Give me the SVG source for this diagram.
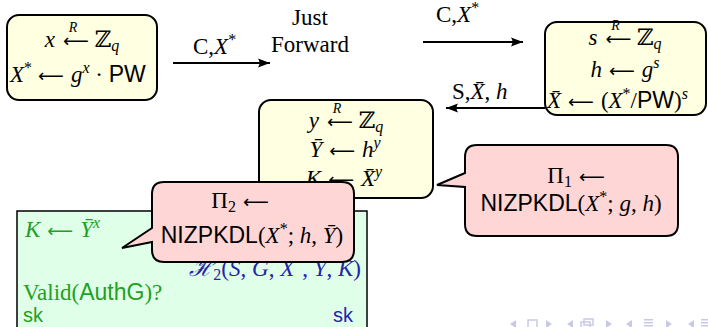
<svg xmlns="http://www.w3.org/2000/svg" width="708" height="327" viewBox="0 0 708 327">
<style>
.m{font-family:"Liberation Serif","DejaVu Serif",serif;font-size:23px;fill:#000}
.i{font-style:italic}
.sf{font-family:"Liberation Sans","DejaVu Sans",sans-serif;font-style:normal}
.ar{font-family:"DejaVu Sans",sans-serif;font-size:18px;font-style:normal}
.sup{font-size:16px}
.rr{font-size:14px;font-style:italic}
.box{fill:#ffffe2;stroke:#000;stroke-width:2}
.bub{fill:#ffd6d6;stroke:#000;stroke-width:2}
.g{fill:#22a022}
.b{fill:#2424a8}
.conn line{stroke:#000;stroke-width:2;marker-end:url(#ah)}
.nav{fill:#c9c9e6}
</style>
<defs>
<marker id="ah" markerWidth="14" markerHeight="10" refX="12" refY="5" orient="auto" markerUnits="userSpaceOnUse">
<path d="M0,0.5 L12,5 L0,9.5 Q3,5 0,0.5 Z" fill="#000"/>
</marker>
</defs>
<rect width="708" height="327" fill="#fff"/>

<g id="green-box">
<rect x="17" y="211" width="350" height="130" fill="#e0ffe8" stroke="#000" stroke-width="1.5"/>
<text class="m g" x="25" y="237"><tspan class="i">K</tspan><tspan class="ar" dx="7">⟵</tspan><tspan class="i" dx="7">Ȳ</tspan><tspan class="i sup" dy="-9">x</tspan></text>
<text class="m b" x="361" y="276" text-anchor="end"><tspan class="i">ℋ</tspan><tspan class="sup" dy="4">2</tspan><tspan dy="-4">(</tspan><tspan class="i">S</tspan>, <tspan class="i">G</tspan>, <tspan class="i">X</tspan><tspan class="sup" dy="-9">*</tspan><tspan dy="9">, </tspan><tspan class="i">Ȳ</tspan>, <tspan class="i">K</tspan>)</text>
<text class="m g" x="23" y="300">Valid(<tspan class="sf">AuthG</tspan>)?</text>
<text class="m g sf" x="23" y="322" style="font-size:20px">sk</text>
<text class="m b sf" x="353" y="322" text-anchor="end" style="font-size:20px">sk</text>
</g>

<g id="client">
<rect class="box" x="7" y="15" width="150" height="85" rx="12"/>
<text class="m" x="82" y="47" text-anchor="middle"><tspan class="i">x</tspan><tspan class="ar" dx="8">⟵</tspan><tspan class="rr" dx="-20" dy="-15">R</tspan><tspan dx="17" dy="15">ℤ</tspan><tspan class="i sup" dy="4">q</tspan></text>
<text class="m" x="10" y="82"><tspan class="i">X</tspan><tspan class="sup" dy="-9">*</tspan><tspan class="ar" dx="6" dy="9">⟵</tspan><tspan class="i" dx="7">g</tspan><tspan class="i sup" dy="-9">x</tspan><tspan dy="9"> · </tspan><tspan class="sf">PW</tspan></text>
</g>

<g id="just-forward">
<text class="m" x="310" y="25" text-anchor="middle">Just</text>
<text class="m" x="310" y="52" text-anchor="middle">Forward</text>
</g>

<g id="server">
<rect class="box" x="545" y="22" width="161" height="93" rx="12"/>
<text class="m" x="625" y="45" text-anchor="middle"><tspan class="i">s</tspan><tspan class="ar" dx="8">⟵</tspan><tspan class="rr" dx="-20" dy="-15">R</tspan><tspan dx="17" dy="15">ℤ</tspan><tspan class="i sup" dy="4">q</tspan></text>
<text class="m" x="625" y="77" text-anchor="middle"><tspan class="i">h</tspan><tspan class="ar" dx="7">⟵</tspan><tspan class="i" dx="7">g</tspan><tspan class="i sup" dy="-9">s</tspan></text>
<text class="m" x="547" y="108"><tspan class="i">X̄</tspan><tspan class="ar" dx="7">⟵</tspan><tspan dx="7">(</tspan><tspan class="i">X</tspan><tspan class="sup" dy="-9">*</tspan><tspan dy="9">/</tspan><tspan class="sf">PW</tspan>)<tspan class="i sup" dy="-9">s</tspan></text>
</g>

<g id="middle">
<rect class="box" x="259" y="100" width="174" height="98" rx="12"/>
<text class="m" x="346" y="128" text-anchor="middle"><tspan class="i">y</tspan><tspan class="ar" dx="8">⟵</tspan><tspan class="rr" dx="-20" dy="-15">R</tspan><tspan dx="17" dy="15">ℤ</tspan><tspan class="i sup" dy="4">q</tspan></text>
<text class="m" x="345" y="157" text-anchor="middle"><tspan class="i">Ȳ</tspan><tspan class="ar" dx="7">⟵</tspan><tspan class="i" dx="7">h</tspan><tspan class="i sup" dy="-9">y</tspan></text>
<text class="m" x="344" y="186" text-anchor="middle"><tspan class="i">K</tspan><tspan class="ar" dx="7">⟵</tspan><tspan class="i" dx="7">X̄</tspan><tspan class="i sup" dy="-9">y</tspan></text>
</g>

<g class="conn" id="connectors">
<line x1="173" y1="63" x2="270" y2="63"/>
<line x1="423" y1="42" x2="523" y2="42"/>
<line x1="545" y1="108" x2="446" y2="108"/>
<text class="m" x="193" y="54">C,<tspan class="i">X</tspan><tspan class="sup" dy="-9">*</tspan></text>
<text class="m" x="436" y="22">C,<tspan class="i">X</tspan><tspan class="sup" dy="-9">*</tspan></text>
<text class="m" x="452" y="99">S,<tspan class="i">X̄</tspan>, <tspan class="i">h</tspan></text>
</g>

<g id="pi1">
<path class="bub" d="M477,145 H666 Q678,145 678,157 V224 Q678,236 666,236 H477 Q465,236 465,224 V187 L437,185 L465,173 V157 Q465,145 477,145 Z"/>
<text class="m" x="576" y="183" text-anchor="middle">Π<tspan class="sup" dy="4">1</tspan><tspan class="ar" dx="7" dy="-4">⟵</tspan></text>
<text class="m" x="571" y="211" text-anchor="middle"><tspan class="sf">NIZPKDL</tspan>(<tspan class="i">X</tspan><tspan class="sup" dy="-9">*</tspan><tspan dy="9">; </tspan><tspan class="i">g</tspan>, <tspan class="i">h</tspan>)</text>
</g>

<g id="pi2">
<path class="bub" d="M164,182 H342 Q354,182 354,194 V250 Q354,262 342,262 H164 Q152,262 152,250 V242 L122,248 L152,228 V194 Q152,182 164,182 Z"/>
<text class="m" x="240" y="208" text-anchor="middle">Π<tspan class="sup" dy="4">2</tspan><tspan class="ar" dx="7" dy="-4">⟵</tspan></text>
<text class="m" x="252" y="243" text-anchor="middle"><tspan class="sf">NIZPKDL</tspan>(<tspan class="i">X</tspan><tspan class="sup" dy="-9">*</tspan><tspan dy="9">; </tspan><tspan class="i">h</tspan>, <tspan class="i">Ȳ</tspan>)</text>
</g>

<g id="nav" class="nav">
<path d="M510,324 L516,320 L516,328 Z"/>
<rect x="528" y="320" width="9" height="8" fill="none" stroke="#c9c9e6" stroke-width="1.5"/>
<path d="M552,324 L546,320 L546,328 Z"/>
<path d="M567,324 L573,320 L573,328 Z"/>
<rect x="581" y="322" width="9" height="6" fill="none" stroke="#c9c9e6" stroke-width="1.5"/>
<rect x="584" y="319" width="9" height="6" fill="none" stroke="#c9c9e6" stroke-width="1.5"/>
<path d="M612,324 L606,320 L606,328 Z"/>
<path d="M626,324 L632,320 L632,328 Z"/>
<rect x="644" y="319" width="9" height="1.5"/>
<rect x="644" y="322" width="9" height="1.5"/>
<rect x="644" y="325" width="9" height="1.5"/>
<path d="M672,324 L666,320 L666,328 Z"/>
<path d="M688,324 L694,320 L694,328 Z"/>
<rect x="701" y="319" width="7" height="1.5"/>
<rect x="701" y="322" width="7" height="1.5"/>
<rect x="701" y="325" width="7" height="1.5"/>
</g>
</svg>
